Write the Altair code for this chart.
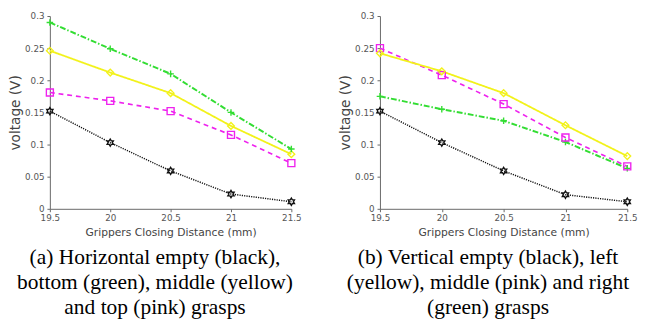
import math
import altair as alt
import pandas as pd

# ---------------- data ----------------
distance = [19.5, 20, 20.5, 21, 21.5]
x_ticks = [19.5, 20, 20.5, 21, 21.5]
y_ticks = [0, 0.05, 0.1, 0.15, 0.2, 0.25, 0.3]

# panel (a): horizontal grasps
a_green = [0.290, 0.249, 0.210, 0.150, 0.093]
a_yellow = [0.246, 0.212, 0.180, 0.129, 0.085]
a_pink = [0.181, 0.168, 0.152, 0.115, 0.071]
a_black = [0.152, 0.103, 0.059, 0.023, 0.011]

# panel (b): vertical grasps
b_green = [0.175, 0.155, 0.137, 0.104, 0.063]
b_yellow = [0.242, 0.214, 0.180, 0.130, 0.082]
b_pink = [0.250, 0.208, 0.163, 0.111, 0.066]
b_black = [0.152, 0.103, 0.059, 0.022, 0.011]

caption_a = ["(a) Horizontal empty (black),", "bottom (green), middle (yellow)", "and top (pink) grasps"]
caption_b = ["(b) Vertical empty (black), left", "(yellow), middle (pink) and right", "(green) grasps"]

x_title = "Grippers Closing Distance (mm)"
y_title = "voltage (V)"

# ---------------- styles ----------------
series_names = ["black", "pink", "yellow", "green"]
series_colors = ["#111111", "#ee22ee", "#f2f21a", "#33dd33"]
series_dash = [[1.2, 1.2], [5, 4], [1, 0], [6, 2, 1.5, 2]]
series_width = [1.5, 2, 2, 1.6]


def hexagram():
    pts = []
    for k in range(12):
        ang = math.radians(-90 + 30 * k)
        r = 1.0 if k % 2 == 0 else 0.577
        pts.append((r * math.cos(ang), r * math.sin(ang)))
    return "M" + "L".join(f"{px:.3f},{py:.3f}" for px, py in pts) + "Z"


series_shapes = [hexagram(), "square", "diamond", "M-1,0L1,0M0,-1L0,1"]
series_sizes = [55, 45, 80, 70]


def panel(series_dict, caption, width):
    rows = []
    for name, vals in series_dict.items():
        for d, v in zip(distance, vals):
            rows.append({"distance": d, "voltage": v, "series": name})
    df = pd.DataFrame(rows)

    base = alt.Chart(df).encode(
        x=alt.X(
            "distance:Q",
            scale=alt.Scale(domain=[19.5, 21.5], nice=False, zero=False),
            axis=alt.Axis(values=x_ticks, format="~g", title=x_title, labelFlush=False,
                          titleFontSize=11, titlePadding=4, labelPadding=2),
        ),
        y=alt.Y(
            "voltage:Q",
            scale=alt.Scale(domain=[0, 0.3], nice=False),
            axis=alt.Axis(values=y_ticks, format="~g", title=y_title,
                          titleFontSize=14, titlePadding=2, labelPadding=3),
        ),
        color=alt.Color("series:N", scale=alt.Scale(domain=series_names, range=series_colors), legend=None),
        order=alt.Order("distance:Q"),
    )
    lines = base.mark_line().encode(
        strokeDash=alt.StrokeDash("series:N", scale=alt.Scale(domain=series_names, range=series_dash), legend=None),
        strokeWidth=alt.StrokeWidth("series:N", scale=alt.Scale(domain=series_names, range=series_width), legend=None),
    )
    points = base.mark_point(filled=False, strokeWidth=1.4, opacity=1).encode(
        shape=alt.Shape("series:N", scale=alt.Scale(domain=series_names, range=series_shapes), legend=None),
        size=alt.Size("series:N", scale=alt.Scale(domain=series_names, range=series_sizes), legend=None),
    )
    return alt.layer(lines, points).properties(
        width=width,
        height=198,
        title=alt.TitleParams(
            text=caption,
            orient="bottom",
            anchor="middle",
            frame="bounds",
            font="Liberation Serif",
            fontSize=22,
            fontWeight="normal",
            color="black",
            lineHeight=25.5,
            offset=11,
        ),
    )


left = panel({"black": a_black, "pink": a_pink, "yellow": a_yellow, "green": a_green}, caption_a, 248)
right = panel({"black": b_black, "green": b_green, "pink": b_pink, "yellow": b_yellow}, caption_b, 254)

chart = (
    alt.hconcat(left, right, spacing=37)
    .properties(padding=0, background="white")
    .configure_view(stroke=None)
    .configure_axis(
        grid=False,
        domainColor="#666666",
        tickColor="#666666",
        tickSize=3,
        labelColor="#555555",
        labelFont="DejaVu Sans",
        labelFontSize=9,
        titleColor="#444444",
        titleFont="DejaVu Sans",
        titleFontWeight="normal",
    )
)

chart.save("out.html", embed_options={"renderer": "svg", "actions": False})
